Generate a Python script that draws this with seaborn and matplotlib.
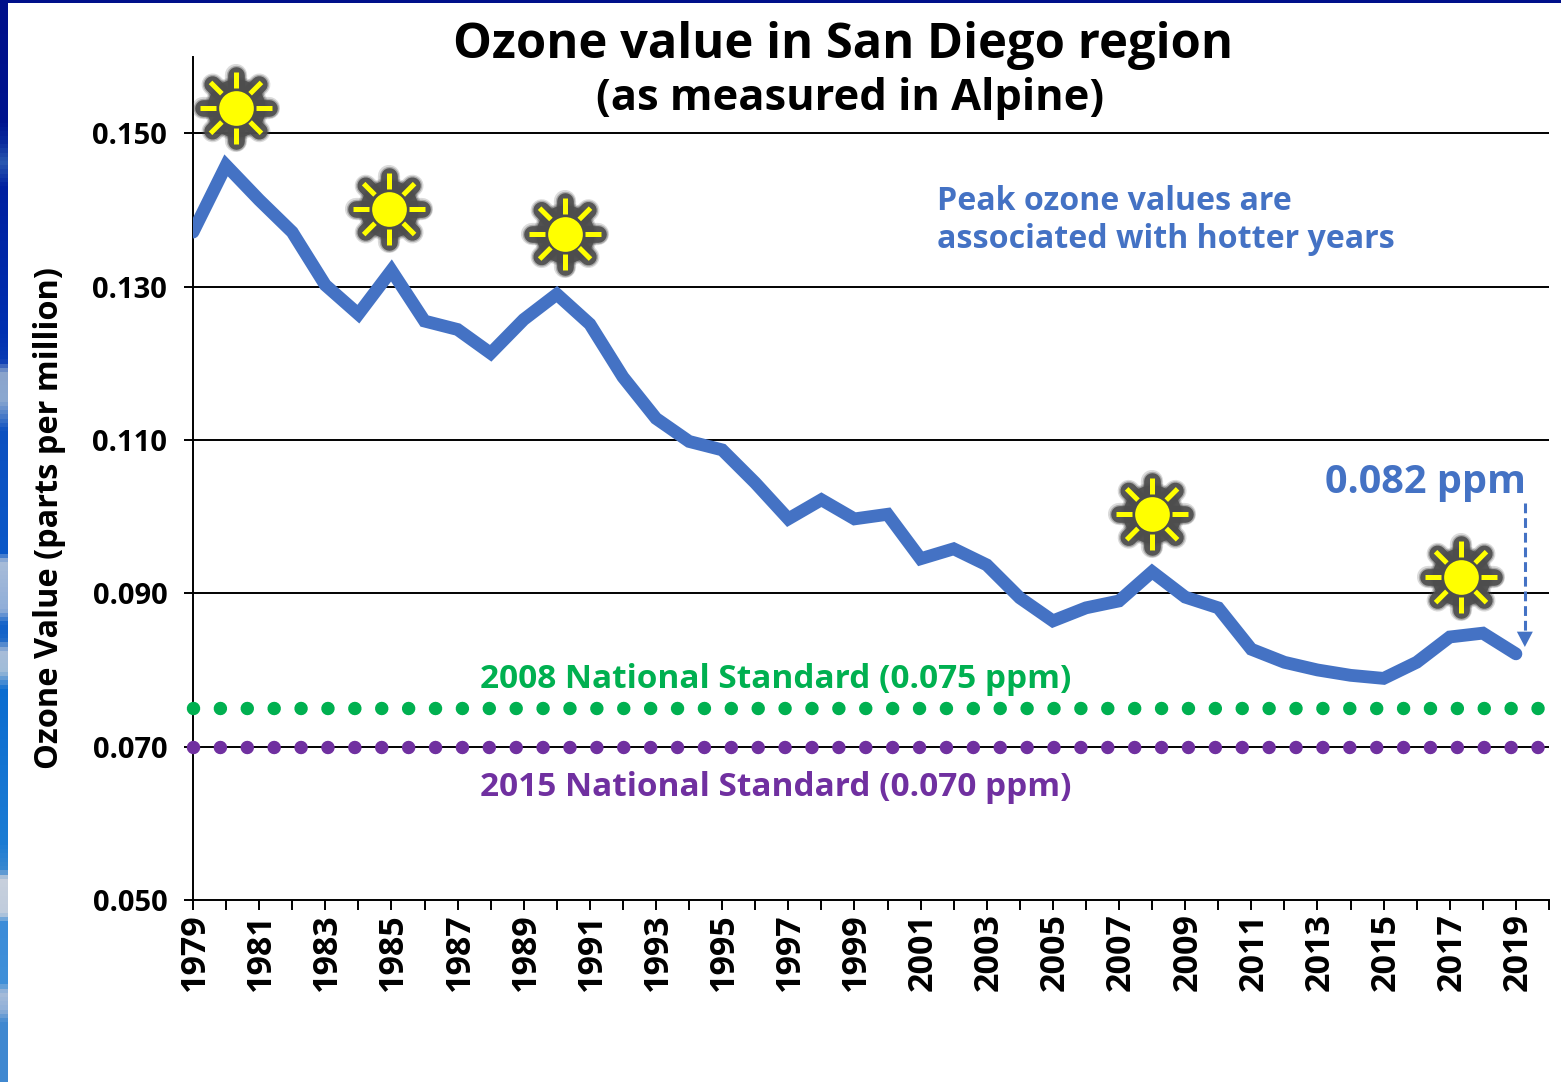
import numpy as np
import pandas as pd
import matplotlib
matplotlib.use('Agg')
import matplotlib.pyplot as plt
from matplotlib.colors import LinearSegmentedColormap
from matplotlib.transforms import ScaledTranslation
import seaborn as sns

years = list(range(1979, 2020))
ozone = [0.1371, 0.1458, 0.1413, 0.1371, 0.1302, 0.1264, 0.1321, 0.1255, 0.1244, 0.1213,
         0.1257, 0.1290, 0.1251, 0.1182, 0.1128, 0.1098, 0.1087, 0.1044, 0.0997, 0.1022,
         0.0997, 0.1003, 0.0945, 0.0958, 0.0937, 0.0894, 0.0864, 0.0881, 0.0890, 0.0928,
         0.0895, 0.0881, 0.0827, 0.0810, 0.0800, 0.0793, 0.0789, 0.0810, 0.0843, 0.0848,
         0.0821]
y_ticks = [0.050, 0.070, 0.090, 0.110, 0.130, 0.150]
std_2008 = 0.075
std_2015 = 0.070
sun_years = [1980.3, 1984.93, 1990.25, 2008.0, 2017.34]
sun_values = [0.1533, 0.1401, 0.1369, 0.1003, 0.0921]

W, H = 1561, 1082
BLUE = '#4472C4'
GREEN = '#00B050'
PURPLE = '#7030A0'

sns.set_theme(style='white')
plt.rcParams['font.family'] = ['Open Sans', 'DejaVu Sans']

fig = plt.figure(figsize=(W / 100, H / 100), dpi=100)
ax = fig.add_axes([193 / W, 1 - 900 / H, (1549 - 193) / W, (900 - 56.5) / H])

df = pd.DataFrame({'year': years, 'ozone': ozone})
sns.lineplot(data=df, x='year', y='ozone', color=BLUE, linewidth=9.2, ax=ax, zorder=4,
             solid_capstyle='round', solid_joinstyle='miter')

ax.set_xlim(1979, 2020)
ax.set_ylim(0.05, 0.16)

for v in y_ticks[1:]:
    ax.axhline(v, color='black', lw=1.4, zorder=1)

# standards, round dots about 27 px apart
ax.axhline(std_2008, color=GREEN, lw=9.7, zorder=3, dash_capstyle='round',
           linestyle=(0, (0.001, 1.995)), clip_on=False)
ax.axhline(std_2015, color=PURPLE, lw=9.7, zorder=3, dash_capstyle='round',
           linestyle=(0, (0.001, 1.995)), clip_on=False)

ax.set_xticks(years + [2020])
ax.set_xticklabels([str(y) if (y - 1979) % 2 == 0 and y < 2020 else '' for y in years + [2020]],
                   rotation=90, fontweight='bold', fontsize=24.5, color='black')
ax.set_yticks(y_ticks)
ax.set_yticklabels([f'{v:.3f}' for v in y_ticks], fontweight='bold', fontsize=21, color='black')
ax.tick_params(axis='x', direction='out', length=7, width=1.4, color='black', pad=2.7, bottom=True)
ax.tick_params(axis='y', direction='out', length=6.5, width=1.4, color='black', pad=12, left=True)
ax.set_xlabel('')
ax.set_ylabel('')
for side in ['top', 'right']:
    ax.spines[side].set_visible(False)
for side in ['left', 'bottom']:
    ax.spines[side].set_color('black')
    ax.spines[side].set_linewidth(1.4)

# nudge rotated year labels onto their ticks
nudge = ScaledTranslation(2 / 100, 0, fig.dpi_scale_trans)
for lab in ax.get_xticklabels():
    lab.set_transform(lab.get_transform() + nudge)

# suns: sizes in pixels turned into data units
px_x = (2020 - 1979) / (1549 - 193)
px_y = (0.16 - 0.05) / (900 - 56.5)
angles = np.radians(np.arange(0, 360, 45))
halo = [(16, 0.2), (14, 0.35), (12, 0.9)]
for sx, sy in zip(sun_years, sun_values):
    for w, a in halo:
        ax.plot([sx], [sy], 'o', ms=30 + w, color='#4d4d4d', mec='none', alpha=a, zorder=5, clip_on=False)
        for ang in angles:
            ax.plot([sx + 20 * np.cos(ang) * px_x, sx + 33 * np.cos(ang) * px_x],
                    [sy + 20 * np.sin(ang) * px_y, sy + 33 * np.sin(ang) * px_y],
                    color='#4d4d4d', lw=w, alpha=a, zorder=5, solid_capstyle='round', clip_on=False)
    for ang in angles:
        ax.plot([sx + 20 * np.cos(ang) * px_x, sx + 36 * np.cos(ang) * px_x],
                [sy + 20 * np.sin(ang) * px_y, sy + 36 * np.sin(ang) * px_y],
                color='#FFFF00', lw=3.6, zorder=6, solid_capstyle='butt', clip_on=False)
    ax.plot([sx], [sy], 'o', ms=25, color='#FFFF00', mec='none', zorder=7, clip_on=False)


# text in figure pixels
def put(x, y, s, **kw):
    fig.text(x / W, 1 - y / H, s, fontweight='bold', **kw)


put(843, 45, 'Ozone value in San Diego region', fontsize=35.2, ha='center', va='center', color='black')
put(850, 99, '(as measured in Alpine)', fontsize=31.3, ha='center', va='center', color='black')
put(50, 518, 'Ozone Value (parts per million)', fontsize=23.4, rotation=90, ha='center', va='center', color='black')
put(937, 201, 'Peak ozone values are', fontsize=23.1, ha='left', va='center', color=BLUE)
put(937, 240, 'associated with hotter years', fontsize=23.1, ha='left', va='center', color=BLUE)
put(480, 679, '2008 National Standard (0.075 ppm)', fontsize=24, ha='left', va='center', color=GREEN)
put(480, 787, '2015 National Standard (0.070 ppm)', fontsize=24, ha='left', va='center', color=PURPLE)
put(1526, 482, '0.082 ppm', fontsize=28.5, ha='right', va='center', color=BLUE)

# dashed arrow down to the last value
ax.plot([2019.27, 2019.27], [0.1018, 0.0850], color=BLUE, lw=2.2, linestyle=(0, (3.2, 1.6)), zorder=5)
ax.annotate('', xy=(2019.27, 0.0830), xytext=(2019.27, 0.0850),
            arrowprops=dict(width=0.1, headwidth=11.5, headlength=11, shrink=0, color=BLUE, lw=0), zorder=5)

# slide background strips
stops = [(0, '#00108a'), (120, '#00148e'), (140, '#0a2a9c'), (160, '#2a58b0'), (185, '#0020a0'),
         (330, '#0030b0'), (360, '#0a3cb4'), (372, '#8aa4cc'), (400, '#8aa8d0'), (430, '#0c50c0'),
         (552, '#0a58c8'), (562, '#a8bcd8'), (610, '#90aed8'), (625, '#1060c8'), (640, '#1c68c8'),
         (652, '#a8bcd8'), (672, '#a0bcd8'), (690, '#0a6cd0'), (845, '#1c7cd4'), (872, '#3a88d0'),
         (880, '#c8d0dc'), (915, '#c0ccdc'), (925, '#3c8cd8'), (985, '#4090d8'), (995, '#a8bcd8'),
         (1012, '#90b0d8'), (1025, '#4088d0'), (1082, '#4088d0')]
cmap = LinearSegmentedColormap.from_list('bg', [(y / 1082, c) for y, c in stops])
left = fig.add_axes([0, 0, 8 / W, 1])
left.imshow(np.linspace(0, 1, 1082).reshape(-1, 1), aspect='auto', cmap=cmap)
left.axis('off')
top = fig.add_axes([0, 1 - 3 / H, 1, 3 / H])
top.set_facecolor('#00108a')
top.set_xticks([])
top.set_yticks([])
for s in top.spines.values():
    s.set_visible(False)

fig.savefig('out.png', dpi=100, facecolor='white')
